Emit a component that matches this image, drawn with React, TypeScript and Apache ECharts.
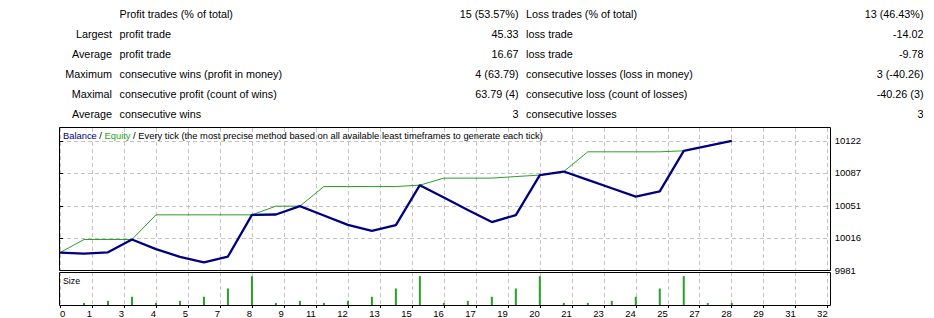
import React, { useEffect, useRef } from "react";
import * as echarts from "echarts";

// ---- statistics table (text) ----
const statPrefixes = ["", "Largest", "Average", "Maximum", "Maximal", "Average"];
const profitNames = [
  "Profit trades (% of total)",
  "profit trade",
  "profit trade",
  "consecutive wins (profit in money)",
  "consecutive profit (count of wins)",
  "consecutive wins",
];
const profitValues = ["15 (53.57%)", "45.33", "16.67", "4 (63.79)", "63.79 (4)", "3"];
const lossNames = [
  "Loss trades (% of total)",
  "loss trade",
  "loss trade",
  "consecutive losses (loss in money)",
  "consecutive loss (count of losses)",
  "consecutive losses",
];
const lossValues = ["13 (46.43%)", "-14.02", "-9.78", "3 (-40.26)", "-40.26 (3)", "3"];

// ---- chart data ----
const tradeNumbers = [0, 1, 2, 3, 4, 5, 6, 7, 8, 9, 10, 11, 12, 13, 14, 15, 16, 17, 18, 19, 20, 21, 22, 23, 24, 25, 26, 27, 28];
const balance = [
  10000, 9998.8, 10000.3, 10014.3, 10003.8, 9995.4, 9989.2, 9995.7, 10041.2, 10041.6,
  10050.7, 10040.5, 10030.3, 10023.8, 10030.0, 10073.6, 10060.1, 10046.5, 10033.3, 10040.9,
  10084.6, 10088.5, 10079.4, 10070.2, 10061.1, 10066.9, 10111.1, 10116.5, 10122.0,
];
const equity = [
  10000, 10014.3, 10014.3, 10014.3, 10041.2, 10041.2, 10041.2, 10041.2, 10041.2, 10050.7,
  10050.7, 10072.1, 10072.1, 10072.1, 10072.1, 10073.6, 10081.3, 10081.3, 10081.3, 10083.0,
  10084.6, 10088.5, 10110.0, 10110.0, 10110.0, 10110.0, 10111.1, 10116.5, 10122.0,
];
const sizeTrades = [1, 2, 3, 4, 5, 6, 7, 8, 9, 10, 11, 12, 13, 14, 15, 16, 17, 18, 19, 20, 21, 22, 23, 24, 25, 26, 27, 28];
const sizes = [
  0.01, 0.02, 0.04, 0.01, 0.02, 0.04, 0.08, 0.14, 0.01, 0.02, 0.01, 0.02, 0.04, 0.08,
  0.14, 0.01, 0.02, 0.04, 0.08, 0.14, 0.01, 0.01, 0.02, 0.04, 0.08, 0.14, 0.01, 0.01,
];
const yTickValues = [9981, 10016, 10051, 10087, 10122];
const xTickLabels = ["0", "1", "3", "4", "5", "7", "8", "9", "11", "12", "13", "15", "16", "17", "19", "20", "21", "23", "24", "25", "27", "28", "29", "31", "32"];

const TITLE_PREFIX = "Balance";
const TITLE_EQUITY = "Equity";
const TITLE_REST = " / Every tick (the most precise method based on all available least timeframes to generate each tick)";

const FONT = '"Liberation Sans", Arial, sans-serif';
const NAVY = "#000080";
const GREEN = "#2a9f2a";
const GRIDLINE = "#c4c4c4";
const TITLE_SIZE = 9.35;

export default function App() {
  const ref = useRef<HTMLDivElement>(null);

  useEffect(() => {
    if (!ref.current) return;
    const chart = echarts.init(ref.current, undefined, { renderer: "svg" });

    const plotLeft = 60;
    const plotWidth = 767.7;
    const tableGraphics: any[] = [];
    const rowY = (i: number) => 13.5 + 20 * i;
    const tableText = (text: string, x: number, y: number, align: string) => ({
      type: "text",
      x,
      y,
      silent: true,
      style: {
        text,
        fill: "#000",
        fontFamily: FONT,
        fontSize: 10.8,
        textAlign: align,
        textVerticalAlign: "middle",
      },
    });
    statPrefixes.forEach((t, i) => {
      if (t) tableGraphics.push(tableText(t, 112, rowY(i), "right"));
    });
    profitNames.forEach((t, i) => tableGraphics.push(tableText(t, 119.5, rowY(i), "left")));
    profitValues.forEach((t, i) => tableGraphics.push(tableText(t, 518.5, rowY(i), "right")));
    lossNames.forEach((t, i) => tableGraphics.push(tableText(t, 526, rowY(i), "left")));
    lossValues.forEach((t, i) => tableGraphics.push(tableText(t, 923.5, rowY(i), "right")));

    const xLabelFormatter = (v: number) => {
      const idx = Math.round(v / (4 / 3));
      return xTickLabels[idx] ?? "";
    };

    const dashed = { color: GRIDLINE, type: [4, 3] as any, width: 1 };

    const option: any = {
      animation: false,
      grid: [
        { left: plotLeft, top: 128, width: plotWidth, height: 142, show: false },
        { left: plotLeft, top: 272, width: plotWidth, height: 33, show: false },
      ],
      xAxis: [
        {
          gridIndex: 0,
          type: "value",
          min: 0,
          max: 32,
          interval: 4 / 3,
          axisLine: { show: false },
          axisTick: { show: false },
          axisLabel: { show: false },
          splitLine: { show: true, lineStyle: dashed },
        },
        {
          gridIndex: 1,
          type: "value",
          min: 0,
          max: 32,
          interval: 4 / 3,
          axisLine: { show: false },
          axisTick: { show: true, length: 3, lineStyle: { color: "#000" } },
          axisLabel: {
            show: true,
            align: "right",
            alignMinLabel: "left",
            margin: 3,
            fontSize: 9.5,
            fontFamily: FONT,
            color: "#000",
            formatter: xLabelFormatter,
          },
          splitLine: { show: true, lineStyle: dashed },
        },
      ],
      yAxis: [
        {
          gridIndex: 0,
          type: "value",
          position: "right",
          offset: 3,
          min: 9981,
          max: 10136,
          axisLine: { show: false },
          axisTick: { show: true, length: 3, customValues: yTickValues, lineStyle: { color: "#000" } },
          axisLabel: {
            show: true,
            customValues: yTickValues,
            margin: 4,
            fontSize: 9.5,
            fontFamily: FONT,
            color: "#000",
            formatter: (v: number) => String(Math.round(v)),
          },
          splitLine: { show: true, lineStyle: dashed },
        },
        {
          gridIndex: 1,
          type: "value",
          min: 0,
          max: 0.16,
          show: false,
          splitLine: { show: false },
        },
      ],
      series: [
        {
          type: "line",
          name: "Equity",
          xAxisIndex: 0,
          yAxisIndex: 0,
          data: equity.map((v, i) => [tradeNumbers[i], v]),
          symbol: "none",
          lineStyle: { color: GREEN, width: 1 },
          z: 2,
        },
        {
          type: "line",
          name: "Balance",
          xAxisIndex: 0,
          yAxisIndex: 0,
          data: balance.map((v, i) => [tradeNumbers[i], v]),
          symbol: "none",
          lineStyle: { color: NAVY, width: 2.3 },
          z: 3,
        },
        {
          type: "bar",
          name: "Size",
          xAxisIndex: 1,
          yAxisIndex: 1,
          data: sizes.map((v, i) => [sizeTrades[i], v]),
          barWidth: 2,
          itemStyle: { color: GREEN },
        },
      ],
      graphic: [
        ...tableGraphics,
        {
          type: "rect",
          z: 100,
          silent: true,
          shape: { x: 59.5, y: 127.5, width: 771, height: 143 },
          style: { fill: "none", stroke: "#000", lineWidth: 1 },
        },
        {
          type: "rect",
          z: 100,
          silent: true,
          shape: { x: 59.5, y: 272.5, width: 771, height: 33 },
          style: { fill: "none", stroke: "#000", lineWidth: 1 },
        },
        {
          type: "text",
          x: 63,
          y: 136,
          z: 100,
          silent: true,
          style: {
            text: `{b|${TITLE_PREFIX}}{k| / }{e|${TITLE_EQUITY}}{k|${TITLE_REST}}`,
            fontFamily: FONT,
            fontSize: TITLE_SIZE,
            textVerticalAlign: "middle",
            rich: {
              b: { fill: NAVY, fontFamily: FONT, fontSize: TITLE_SIZE },
              e: { fill: GREEN, fontFamily: FONT, fontSize: TITLE_SIZE },
              k: { fill: "#000", fontFamily: FONT, fontSize: TITLE_SIZE },
            },
          },
        },
        {
          type: "text",
          x: 63,
          y: 281,
          z: 100,
          silent: true,
          style: {
            text: "Size",
            fill: "#000",
            fontFamily: FONT,
            fontSize: 8.8,
            textVerticalAlign: "middle",
          },
        },
      ],
    };

    chart.setOption(option);
    return () => chart.dispose();
  }, []);

  return (
    <div
      ref={ref}
      style={{ position: "fixed", left: 0, top: 0, width: 934, height: 318, background: "#fff" }}
    />
  );
}
